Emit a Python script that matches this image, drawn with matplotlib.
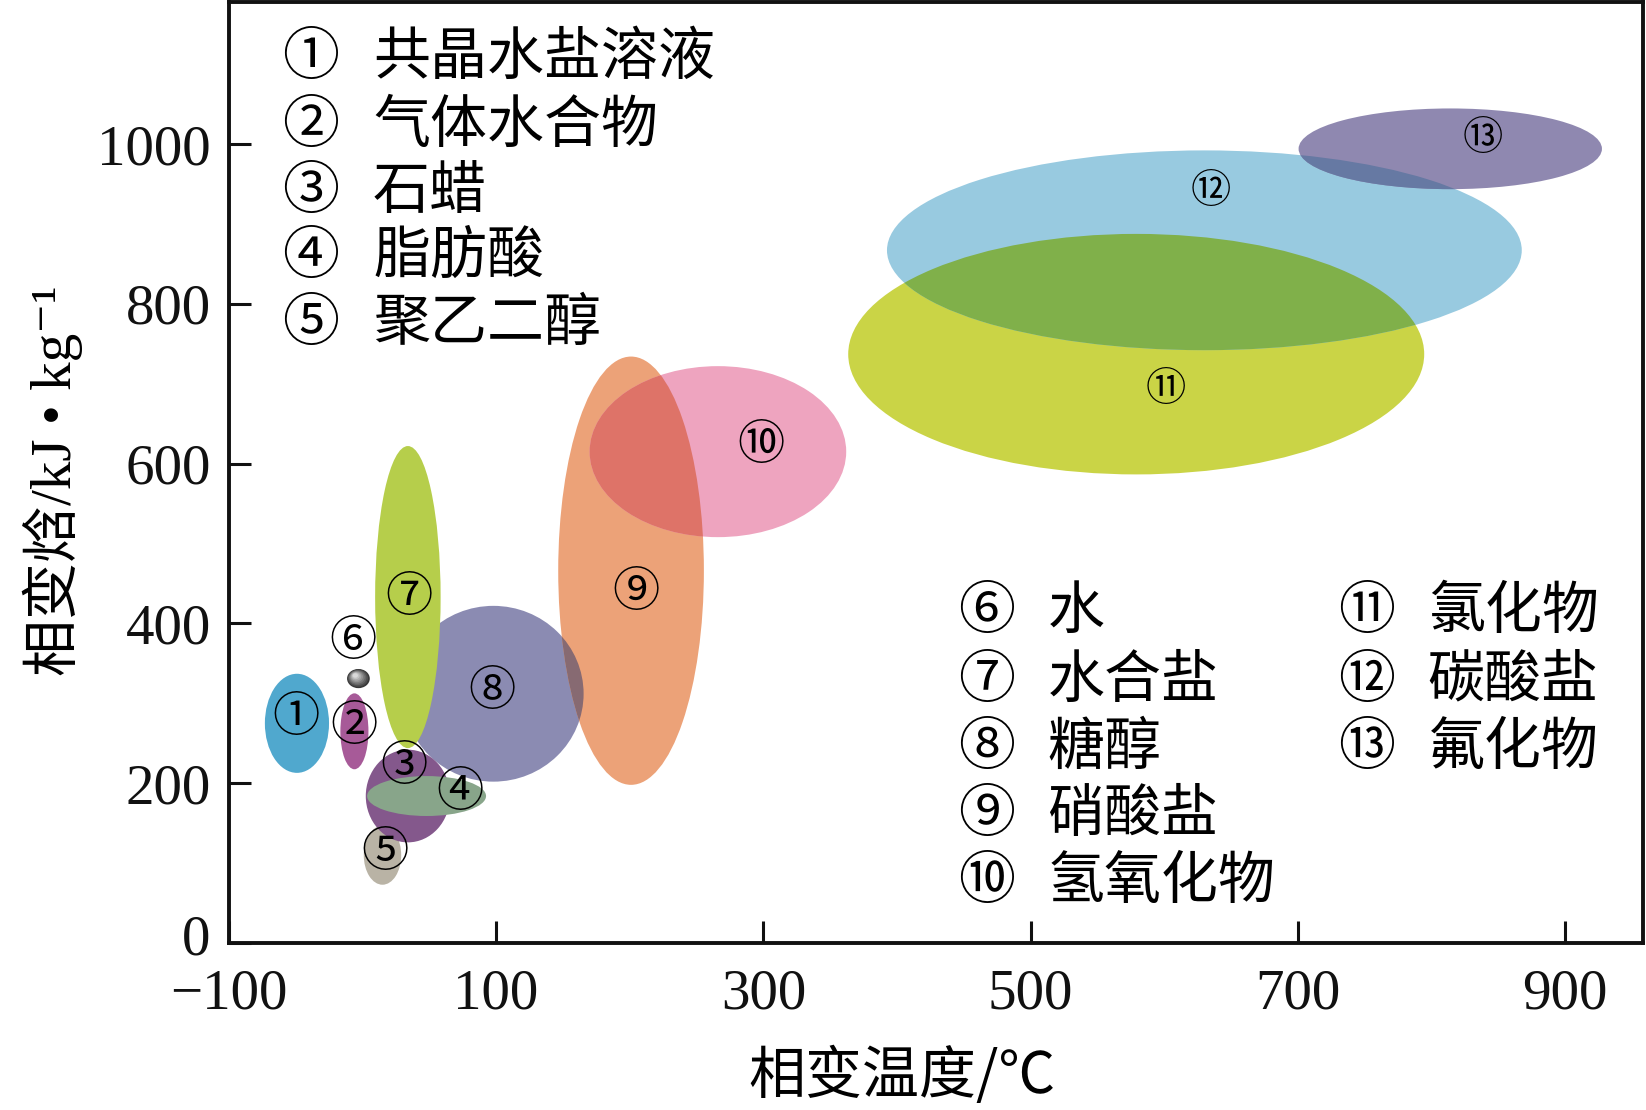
import matplotlib
matplotlib.use("Agg")
import matplotlib.pyplot as plt
import matplotlib.transforms as mtransforms
from matplotlib.patches import Ellipse

# material classes: centre (temperature, enthalpy) and spread
ids = ["①", "②", "③", "④", "⑤", "⑥", "⑦", "⑧", "⑨", "⑩", "⑪", "⑫", "⑬"]
names = ["共晶水盐溶液", "气体水合物", "石蜡", "脂肪酸", "聚乙二醇",
         "水", "水合盐", "糖醇", "硝酸盐", "氢氧化物", "氯化物", "碳酸盐", "氟化物"]
temp_center = [-49, -6, 34, 48, 15, -3, 34, 98, 201, 266, 579, 630, 814]
temp_width = [48, 21, 63, 89, 28, 17, 49, 135, 109, 192, 431, 475, 227]
heat_center = [275, 265, 184, 184, 110, 331, 433, 312, 466, 615, 737, 867, 994]
heat_height = [124, 95, 116, 50, 74, 24, 378, 220, 536, 214, 301, 250, 101]
label_temp = [-50, -6, 31, 73, 17, -7, 35, 97, 205, 298, 601, 635, 838]
label_heat = [282, 271, 221, 188, 113, 377, 432, 315, 439, 622, 693, 940, 1007]

colors = ["#50a8ce", "#a75a98", "#84588c", "#88a58a", "#b9b3a5", "#3c3c3c",
          "#b6ce4b", "#8b8bb2", "#eca278", "#eea4bf", "#cad446", "#98cae0", "#8f88b0"]
# overlapping areas (darker where two classes share the range)
overlaps = [(8, 9, "#de7368"), (10, 11, "#80b04a"), (11, 12, "#6679a3"), (7, 8, "#876a72")]

x_ticks = [-100, 100, 300, 500, 700, 900]
x_labels = ["−100", "100", "300", "500", "700", "900"]
y_ticks = [0, 200, 400, 600, 800, 1000]

serif = ["Liberation Serif", "Noto Sans CJK SC", "DejaVu Sans"]
cjk = ["Noto Sans CJK SC", "DejaVu Sans"]


def main():
    fig = plt.figure(figsize=(16.46, 11.10), dpi=100)
    ax = fig.add_axes([0.139, 0.1504, 0.859, 0.848])

    order = [7, 8, 9, 6, 0, 1, 4, 2, 3, 10, 11, 12]
    patches = {}
    for i in order:
        e = Ellipse((temp_center[i], heat_center[i]), temp_width[i], heat_height[i],
                    facecolor=colors[i], edgecolor="none", zorder=2)
        ax.add_patch(e)
        patches[i] = e

    for a, b, c in overlaps:
        e = Ellipse((temp_center[b], heat_center[b]), temp_width[b], heat_height[b],
                    facecolor=c, edgecolor="none", zorder=3)
        ax.add_patch(e)
        e.set_clip_path(patches[a])

    # water: small shaded sphere
    i = 5
    for k in range(8):
        f = 1 - k * 0.11
        g = 0.22 + k * 0.09
        ax.add_patch(Ellipse((temp_center[i] - (1 - f) * 3, heat_center[i] + (1 - f) * 5),
                             temp_width[i] * f, heat_height[i] * f,
                             facecolor=(g, g, g), edgecolor="none", zorder=4))

    for i in range(len(ids)):
        size = 29 if i >= 10 else 34
        ax.text(label_temp[i], label_heat[i], ids[i], fontsize=size, family=cjk,
                ha="center", va="center", zorder=5)

    # legend blocks
    rows1 = [0.941, 0.868, 0.798, 0.729, 0.658]
    for k, y in enumerate(rows1):
        ax.text(0.058, y, ids[k], transform=ax.transAxes, fontsize=41, family=cjk,
                ha="center", va="center")
        ax.text(0.102, y, names[k], transform=ax.transAxes, fontsize=41, family=cjk,
                ha="left", va="center")
    rows2 = [0.3516, 0.279, 0.2076, 0.136, 0.0647]
    for k, y in enumerate(rows2):
        ax.text(0.536, y, ids[5 + k], transform=ax.transAxes, fontsize=41, family=cjk,
                ha="center", va="center")
        ax.text(0.579, y, names[5 + k], transform=ax.transAxes, fontsize=41, family=cjk,
                ha="left", va="center")
    for k, y in enumerate(rows2[:3]):
        ax.text(0.805, y, ids[10 + k], transform=ax.transAxes, fontsize=41, family=cjk,
                ha="center", va="center")
        ax.text(0.848, y, names[10 + k], transform=ax.transAxes, fontsize=41, family=cjk,
                ha="left", va="center")

    ax.set_xlim(-100, 958)
    ax.set_ylim(0, 1178)
    ax.set_xticks(x_ticks)
    ax.set_xticklabels(x_labels, family=serif, fontsize=41)
    ax.set_yticks(y_ticks)
    ax.set_yticklabels([str(v) for v in y_ticks], family=serif, fontsize=41)
    ax.tick_params(direction="in", length=16, width=2.2, colors="#111111")
    ax.tick_params(axis="x", pad=18)
    ax.tick_params(axis="y", pad=13)
    for s in ax.spines.values():
        s.set_linewidth(2.8)
        s.set_color("#111111")

    # lift the "0" a little so it clears the "-100" below it
    zero = ax.get_yticklabels()[0]
    zero.set_transform(zero.get_transform()
                       + mtransforms.ScaledTranslation(0, 6 / 72, fig.dpi_scale_trans))

    fig.text(0.548, 0.030, "相变温度/℃", fontsize=41, family=cjk,
             ha="center", va="center")
    fig.text(0.032, 0.567, "相变焓/kJ • kg⁻¹", fontsize=41, family=serif,
             rotation=90, ha="center", va="center")

    fig.savefig("out.png", dpi=100)


if __name__ == "__main__":
    main()
